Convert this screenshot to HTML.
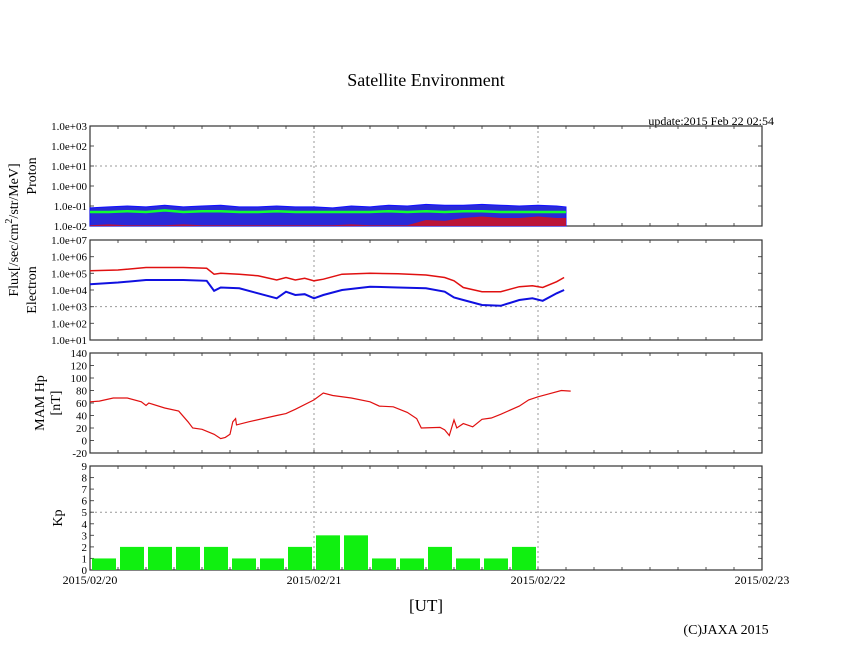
<!DOCTYPE html>
<html><head><meta charset="utf-8"><style>
html,body{margin:0;padding:0;background:#fff;}
svg{display:block;font-family:"Liberation Serif",serif;}
</style></head><body>
<svg id="chart" width="846" height="655" viewBox="0 0 846 655">
<text x="426" y="86" font-size="18" text-anchor="middle">Satellite Environment</text>
<text x="774" y="125" font-size="12" text-anchor="end">update:2015 Feb 22 02:54</text>
<text x="726" y="634" font-size="14" text-anchor="middle">(C)JAXA 2015</text>
<text x="426" y="611" font-size="17" text-anchor="middle">[UT]</text>
<g id="plots"></g>
</svg>
<script>
// ---- data ----
const xTickLabels = ["2015/02/20","2015/02/21","2015/02/22","2015/02/23"];
const protonTicks = ["1.0e-02","1.0e-01","1.0e+00","1.0e+01","1.0e+02","1.0e+03"];
const electronTicks = ["1.0e+01","1.0e+02","1.0e+03","1.0e+04","1.0e+05","1.0e+06","1.0e+07"];
const mamTicks = [-20,0,20,40,60,80,100,120,140];
const kpTicks = [0,1,2,3,4,5,6,7,8,9];
// proton (hours from 2015/02/20 00UT)
const protonHours = [0,2,4,6,8,10,12,14,16,18,20,22,24,26,28,30,32,34,36,38,40,42,44,46,48,50,51];
const protonBlueHi = [0.08,0.09,0.1,0.09,0.11,0.09,0.1,0.11,0.09,0.09,0.1,0.09,0.09,0.08,0.1,0.09,0.11,0.1,0.12,0.11,0.11,0.12,0.11,0.1,0.11,0.1,0.09];
const protonGreen = [0.05,0.05,0.055,0.05,0.06,0.05,0.055,0.055,0.05,0.05,0.055,0.05,0.05,0.05,0.05,0.05,0.055,0.05,0.055,0.05,0.055,0.055,0.05,0.05,0.05,0.05,0.05];
const protonRed = [0.011,0.012,0.011,0.011,0.011,0.012,0.011,0.011,0.011,0.011,0.011,0.011,0.011,0.011,0.012,0.011,0.011,0.011,0.02,0.018,0.025,0.03,0.025,0.025,0.03,0.025,0.025];
// electron (log10 flux)
const elecHours = [0,3,6,10,12.5,13.3,14,16,18,20,21,22,23,24,25,27,30,33,36,38,39,40,42,44,46,47.4,48.5,50,50.8];
const elecRed =   [5.15,5.2,5.35,5.35,5.3,4.95,5.0,4.95,4.85,4.6,4.75,4.6,4.7,4.55,4.65,4.95,5.0,4.98,4.9,4.75,4.55,4.15,3.9,3.9,4.2,4.25,4.15,4.5,4.75];
const elecBlue =  [4.35,4.45,4.6,4.6,4.55,3.95,4.15,4.1,3.8,3.5,3.9,3.7,3.75,3.5,3.7,4.0,4.2,4.15,4.1,3.9,3.55,3.4,3.1,3.05,3.4,3.5,3.35,3.8,4.0];
// MAM Hp (nT)
const mamHours = [0,1,2.5,4,5.5,6,6.3,8,9.5,10.5,11,12,13.3,14,14.5,15,15.3,15.6,15.7,17,20,21,22,24,25,26,28,30,31,32.5,34,35,35.5,37.5,38,38.5,39,39.3,40,41,42,43,44,46,47,48,49,50.5,51.5];
const mamVals =  [62,63,68,68,62,56,60,52,47,30,20,18,10,3,5,10,30,35,25,30,40,43,50,65,76,72,68,62,55,54,45,35,20,21,17,8,33,20,27,22,34,36,42,55,65,70,74,80,79];
// Kp (3-hour bins)
const kpValues = [1,2,2,2,2,1,1,2,3,3,1,1,2,1,1,2];

// ---- layout ----
const X0 = 90, X1 = 762, HOURS = 72;
const xs = h => X0 + (X1 - X0) * h / HOURS;
const NS = "http://www.w3.org/2000/svg";
const root = document.getElementById('plots');
function el(tag, attrs, parent) {
  const e = document.createElementNS(NS, tag);
  for (const k in attrs) e.setAttribute(k, attrs[k]);
  (parent || root).appendChild(e);
  return e;
}
const panels = {
  proton: {top:126, bot:226, min:-2, max:3},
  electron: {top:240, bot:340, min:1, max:7},
  mam: {top:353, bot:453, min:-20, max:140},
  kp: {top:466, bot:570, min:0, max:9}
};
function ysc(p, v){ return p.bot - (p.bot - p.top) * (v - p.min) / (p.max - p.min); }

function frame(p, name, ticks, tickVals, gridVals) {
  const g = el('g', {});
  
  
  [24,48].forEach(h => {
    const l = el('line', {x1:xs(h), x2:xs(h), y1:p.top, y2:p.bot, stroke:'#999', 'stroke-dasharray':'2,3', 'stroke-width':1}, g);
    
    
  });
  gridVals.forEach(v => {
    const l = el('line', {x1:X0, x2:X1, y1:ysc(p,v), y2:ysc(p,v), stroke:'#999', 'stroke-dasharray':'2,3', 'stroke-width':1}, g);
    
    
  });
  for (let h = 3; h < HOURS; h += 3) {
    el('line', {x1:xs(h), x2:xs(h), y1:p.top, y2:p.top+3, stroke:'#555'}, g);
    el('line', {x1:xs(h), x2:xs(h), y1:p.bot, y2:p.bot-3, stroke:'#555'}, g);
  }
  tickVals.forEach((v,i) => {
    const y = ysc(p,v);
    el('line', {x1:X0, x2:X0+4, y1:y, y2:y, stroke:'#555'}, g);
    el('line', {x1:X1, x2:X1-4, y1:y, y2:y, stroke:'#555'}, g);
    const t = el('text', {x:X0-3, y:y+4, 'font-size':11, 'text-anchor':'end'}, g);
    t.textContent = ticks[i];
    
    
  });
  const r = el('rect', {x:X0, y:p.top, width:X1-X0, height:p.bot-p.top, fill:'none', stroke:'#333', 'stroke-width':1.2}, g);
  
  
  return g;
}
function pathFrom(hours, vals, p, f) {
  return hours.map((h,i) => (i?'L':'M') + xs(h).toFixed(1) + ',' + ysc(p, f(vals[i])).toFixed(1)).join('');
}

// proton
const pp = panels.proton;
const gP = frame(pp, 'proton', protonTicks, [-2,-1,0,1,2,3], [1]);
const lg = v => Math.log10(v);
let d = pathFrom(protonHours, protonBlueHi, pp, lg) + 'L' + xs(51) + ',' + pp.bot + 'L' + xs(0) + ',' + pp.bot + 'Z';
const blueArea = el('path', {d:d, fill:'#2a2ad8', stroke:'#1010ff', 'stroke-width':1}, gP);


d = pathFrom(protonHours, protonRed, pp, lg) + 'L' + xs(51) + ',' + pp.bot + 'L' + xs(0) + ',' + pp.bot + 'Z';
const redArea = el('path', {d:d, fill:'#e01010', stroke:'none', opacity:0.8}, gP);


const greenLine = el('path', {d:pathFrom(protonHours, protonGreen, pp, lg), fill:'none', stroke:'#10ff30', 'stroke-width':2.5}, gP);



// electron
const pe = panels.electron;
const gE = frame(pe, 'electron', electronTicks, [1,2,3,4,5,6,7], [3]);
const id = v => v;
const eRed = el('path', {d:pathFrom(elecHours, elecRed, pe, id), fill:'none', stroke:'#e01010', 'stroke-width':1.5}, gE);


const eBlue = el('path', {d:pathFrom(elecHours, elecBlue, pe, id), fill:'none', stroke:'#1010e0', 'stroke-width':2}, gE);



// mam
const pm = panels.mam;
const gM = frame(pm, 'mam-hp', mamTicks.map(String), mamTicks, []);
const mLine = el('path', {d:pathFrom(mamHours, mamVals, pm, id), fill:'none', stroke:'#e01010', 'stroke-width':1.2}, gM);



// kp
const pk = panels.kp;
const gK = frame(pk, 'kp', kpTicks.map(String), kpTicks, [5]);
kpValues.forEach((v,i) => {
  const x = xs(i*3) + 2, w = xs(3) - xs(0) - 4;
  const b = el('rect', {x:x, y:ysc(pk,v), width:w, height:pk.bot-ysc(pk,v), fill:'#10f010'}, gK);
  
  
});
xTickLabels.forEach((s,i) => {
  const t = el('text', {x:xs(i*24), y:584, 'font-size':12, 'text-anchor':'middle'});
  t.textContent = s;
  
  
});
function vtext(x, y, s, name, size) {
  const t = el('text', {x:x, y:y, 'font-size':size, 'text-anchor':'middle', transform:'rotate(-90 '+x+' '+y+')'});
  t.textContent = s;
  
  
  return t;
}
const fl = vtext(18, 230, '', 'flux-axis-title', 14);
fl.innerHTML = 'Flux[/sec/cm<tspan dy="-6" font-size="10">2</tspan><tspan dy="6">/str/MeV]</tspan>';
vtext(36, 176, 'Proton', 'proton-axis-title', 14);
vtext(36, 290, 'Electron', 'electron-axis-title', 14);
vtext(44, 403, 'MAM Hp', 'mam-axis-title', 14);
vtext(60, 403, '[nT]', 'mam-unit-title', 14);
vtext(62, 518, 'Kp', 'kp-axis-title', 14);
</script>
</body></html>
